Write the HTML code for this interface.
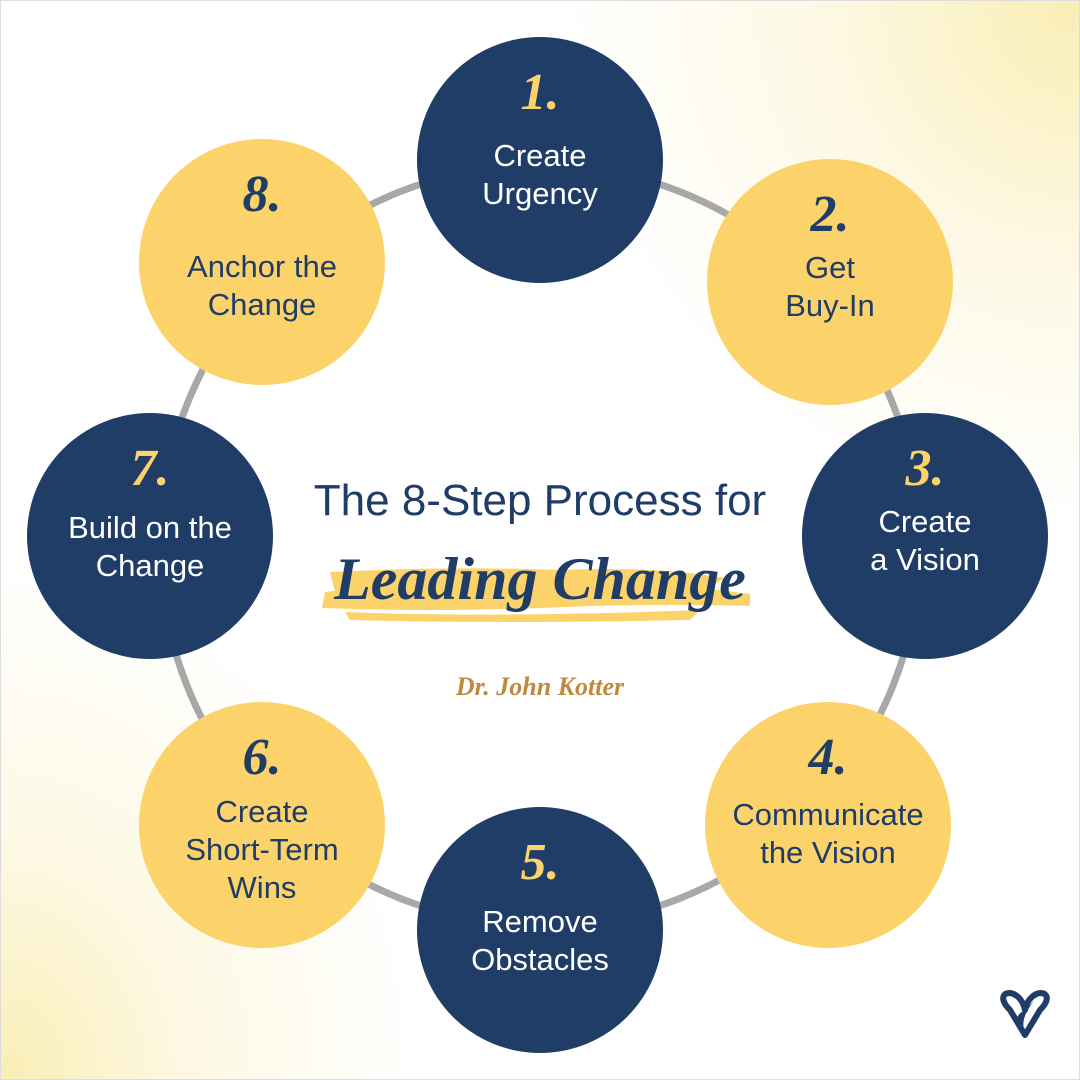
<!DOCTYPE html>
<html><head><meta charset="utf-8"><style>
html,body{margin:0;padding:0}
body{width:1080px;height:1080px;position:relative;overflow:hidden;background:#fff;}
.bg{position:absolute;left:0;top:0;width:1080px;height:1080px;
background:radial-gradient(ellipse 520px 520px at 1080px 0px, #f9eeb5 0%, rgba(252,244,210,0.6) 50%, rgba(255,255,255,0) 100%),
radial-gradient(ellipse 420px 520px at 0px 1080px, #f9eeb5 0%, rgba(252,244,210,0.6) 45%, rgba(255,255,255,0) 100%),#fff;
box-sizing:border-box;border:1px solid #ddd}
.c{position:absolute;width:246px;height:246px;border-radius:50%;text-align:center;font-family:"Liberation Sans",sans-serif;}
.n{background:#1f3d66;color:#fff}
.y{background:#fcd36b;color:#1f3d66}
.num{position:absolute;left:0;right:0;top:30px;font-family:"Liberation Serif",serif;font-style:italic;font-weight:bold;font-size:52px;line-height:52px}
.n .num{color:#fcd36b}
.y .num{color:#1f3d66}
.t{position:absolute;left:0;right:0;top:96px;font-size:31px;line-height:38px}
</style></head><body>
<div class="bg"></div>
<svg width="1080" height="1080" style="position:absolute;left:0;top:0">
<circle cx="540" cy="545" r="380" fill="none" stroke="#a8a8a8" stroke-width="7"/>
<path d="M325 592 Q 420 580 540 584 Q 650 580 750 594 L 750 606 Q 650 603 540 608 Q 420 612 322 608 Z M330 572 Q 450 566 560 570 Q 660 566 725 578 L 705 590 Q 560 587 335 592 Z M345 612 Q 500 618 700 610 L 690 620 Q 500 624 350 620 Z" fill="#fcd36b"/>
<path d="M1010 1010 C 990 990 1020 985 1025 1010 C 1030 985 1060 990 1040 1010 L 1025 1035 Z" fill="none" stroke="#1f3d66" stroke-width="6" stroke-linejoin="round"/>
<path d="M1025 1010 C 1015 1015 1012 1025 1025 1035 C 1022 1025 1022 1015 1035 1000 Z" fill="#1f3d66"/>
</svg>
<div class="c n" style="left:417px;top:37px"><div class="num">1.</div><div class="t" style="top:100px">Create<br>Urgency</div></div>
<div class="c y" style="left:707px;top:159px"><div class="num">2.</div><div class="t" style="top:90px">Get<br>Buy-In</div></div>
<div class="c n" style="left:802px;top:413px"><div class="num">3.</div><div class="t" style="top:90px">Create<br>a Vision</div></div>
<div class="c y" style="left:705px;top:702px"><div class="num">4.</div><div class="t" style="top:94px">Communicate<br>the Vision</div></div>
<div class="c n" style="left:417px;top:807px"><div class="num">5.</div><div class="t">Remove<br>Obstacles</div></div>
<div class="c y" style="left:139px;top:702px"><div class="num">6.</div><div class="t" style="top:91px">Create<br>Short-Term<br>Wins</div></div>
<div class="c n" style="left:27px;top:413px"><div class="num">7.</div><div class="t">Build on the<br>Change</div></div>
<div class="c y" style="left:139px;top:139px"><div class="num">8.</div><div class="t" style="top:109px">Anchor the<br>Change</div></div>
<div style="position:absolute;left:260px;top:476px;width:560px;text-align:center;font-family:'Liberation Sans',sans-serif;font-size:44px;color:#1f3d66">The 8-Step Process for</div>
<div style="position:absolute;left:260px;top:545px;width:560px;text-align:center;font-family:'Liberation Serif',serif;font-style:italic;font-weight:bold;font-size:60px;color:#1f3d66">Leading Change</div>
<div style="position:absolute;left:270px;top:672px;width:540px;text-align:center;font-family:'Liberation Serif',serif;font-style:italic;font-weight:bold;font-size:26px;color:#c08a3e">Dr. John Kotter</div>
</body></html>
